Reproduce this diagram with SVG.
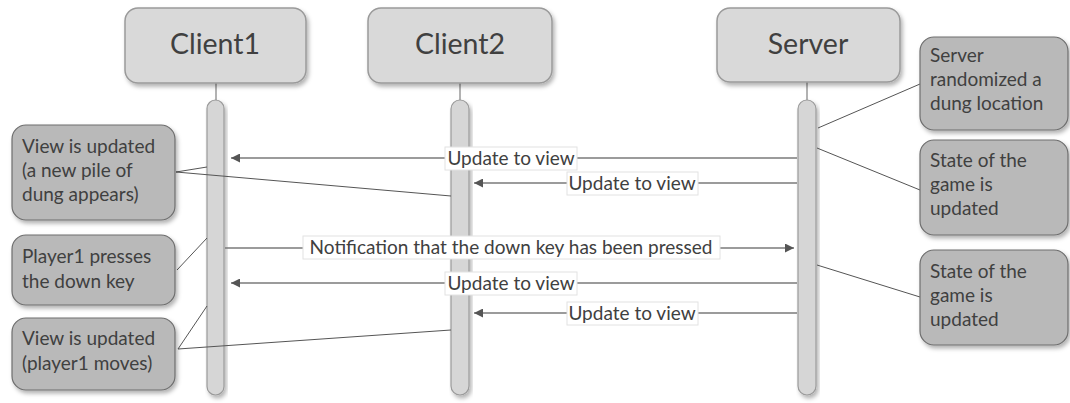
<svg xmlns="http://www.w3.org/2000/svg" width="1070" height="403" viewBox="0 0 1070 403">
<defs>
<filter id="sh" x="-10%" y="-10%" width="130%" height="130%">
<feDropShadow dx="2" dy="3" stdDeviation="2" flood-color="#000" flood-opacity="0.3"/>
</filter>
<marker id="ah" viewBox="0 0 10 10" refX="10" refY="5" markerWidth="10" markerHeight="9" markerUnits="userSpaceOnUse" orient="auto">
<path d="M0,0 L10,5 L0,10 z" fill="#555"/>
</marker>
<style>
.hdr{fill:#d9d9d9;stroke:#9a9a9a;stroke-width:1.5;filter:url(#sh)}
.bar{fill:#d6d6d6;stroke:#9a9a9a;stroke-width:1.2;filter:url(#sh)}
.note{fill:#b9b9b9;stroke:#6e6e6e;stroke-width:1.2;filter:url(#sh)}
.stub{stroke:#999;stroke-width:1.5}
.msg{stroke:#7a7a7a;stroke-width:1.5;fill:none}
.lnk{stroke:#555;stroke-width:1;fill:none}
.lbl{fill:#fff;stroke:#e2e2e2;stroke-width:1}
text{font-family:Lato,"Open Sans","Liberation Sans",sans-serif;fill:#404040}
.ht{font-size:28.5px;text-anchor:middle}
.nt{font-size:19px}
.mt{font-size:19px;text-anchor:middle}
</style>
</defs>
<rect width="1070" height="403" fill="#fff"/>

<g id="client1">
<line class="stub" x1="216" y1="83" x2="216" y2="100"/>
<rect class="hdr" x="125" y="8" width="181" height="75" rx="13"/>
<text class="ht" x="215" y="54">Client1</text>
<rect class="bar" x="207" y="100" width="17" height="295" rx="8.5"/>
</g>
<g id="client2">
<line class="stub" x1="460" y1="83" x2="460" y2="100"/>
<rect class="hdr" x="368" y="8" width="184" height="75" rx="13"/>
<text class="ht" x="460" y="54">Client2</text>
<rect class="bar" x="451" y="100" width="18" height="295" rx="9"/>
</g>
<g id="server">
<line class="stub" x1="807" y1="82" x2="807" y2="100"/>
<rect class="hdr" x="717" y="8" width="183" height="74" rx="13"/>
<text class="ht" x="808" y="54">Server</text>
<rect class="bar" x="798" y="100" width="18" height="295" rx="9"/>
</g>

<g id="connectors">
<line class="msg" x1="797" y1="158" x2="231" y2="158" marker-end="url(#ah)"/>
<line class="msg" x1="797" y1="183" x2="474" y2="183" marker-end="url(#ah)"/>
<line class="msg" x1="225" y1="248" x2="794" y2="248" marker-end="url(#ah)"/>
<line class="msg" x1="797" y1="283" x2="231" y2="283" marker-end="url(#ah)"/>
<line class="msg" x1="797" y1="313" x2="474" y2="313" marker-end="url(#ah)"/>
<line class="lnk" x1="920" y1="84" x2="818" y2="128"/>
<line class="lnk" x1="920" y1="190" x2="817" y2="148"/>
<line class="lnk" x1="920" y1="297" x2="817" y2="265"/>
<line class="lnk" x1="176" y1="172" x2="207" y2="167"/>
<line class="lnk" x1="176" y1="172" x2="451" y2="196"/>
<line class="lnk" x1="177" y1="270" x2="207" y2="238"/>
<line class="lnk" x1="178" y1="349" x2="207" y2="306"/>
<line class="lnk" x1="178" y1="349" x2="451" y2="330"/>
<rect class="lbl" x="445" y="147" width="132" height="23"/>
<text class="mt" x="511" y="165">Update to view</text>
<rect class="lbl" x="567" y="172" width="131" height="23"/>
<text class="mt" x="632" y="190">Update to view</text>
<rect class="lbl" x="303" y="236" width="417" height="23"/>
<text class="mt" x="511" y="254">Notification that the down key has been pressed</text>
<rect class="lbl" x="445" y="272" width="132" height="23"/>
<text class="mt" x="511" y="290">Update to view</text>
<rect class="lbl" x="567" y="302" width="131" height="23"/>
<text class="mt" x="632" y="320">Update to view</text>
</g>

<g id="note-dung">
<rect class="note" x="920" y="37" width="148" height="93" rx="14"/>
<text class="nt" x="930" y="62">Server</text>
<text class="nt" x="930" y="86">randomized a</text>
<text class="nt" x="930" y="110">dung location</text>
</g>
<g id="note-state1">
<rect class="note" x="920" y="140" width="148" height="95" rx="14"/>
<text class="nt" x="930" y="167">State of the</text>
<text class="nt" x="930" y="191">game is</text>
<text class="nt" x="930" y="215">updated</text>
</g>
<g id="note-state2">
<rect class="note" x="920" y="250" width="148" height="95" rx="14"/>
<text class="nt" x="930" y="278">State of the</text>
<text class="nt" x="930" y="302">game is</text>
<text class="nt" x="930" y="326">updated</text>
</g>
<g id="note-view1">
<rect class="note" x="12" y="125" width="163" height="95" rx="14"/>
<text class="nt" x="22" y="153">View is updated</text>
<text class="nt" x="22" y="177">(a new pile of</text>
<text class="nt" x="22" y="201">dung appears)</text>
</g>
<g id="note-player">
<rect class="note" x="12" y="235" width="163" height="70" rx="14"/>
<text class="nt" x="22" y="263">Player1 presses</text>
<text class="nt" x="22" y="288">the down key</text>
</g>
<g id="note-view2">
<rect class="note" x="12" y="318" width="163" height="72" rx="14"/>
<text class="nt" x="22" y="345">View is updated</text>
<text class="nt" x="22" y="370">(player1 moves)</text>
</g>
</svg>
